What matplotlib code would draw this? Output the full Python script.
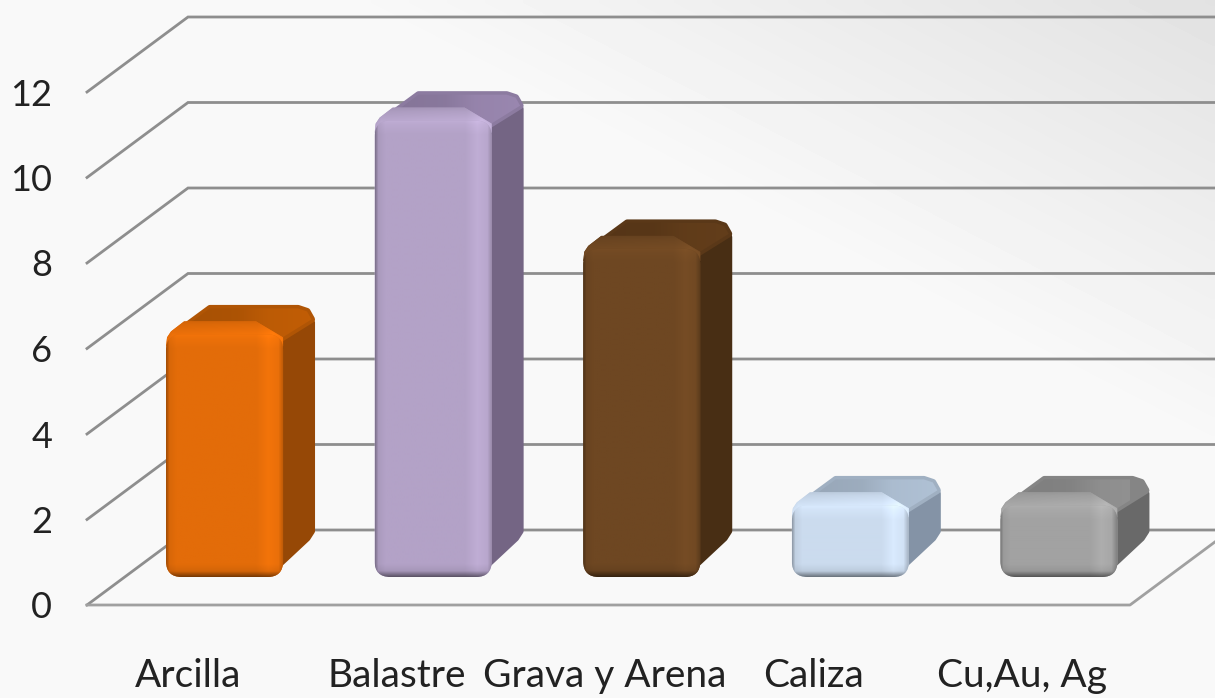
#!/usr/bin/env python

import numpy as np
import matplotlib
matplotlib.use("Agg")
import matplotlib.pyplot as plt
from matplotlib.patches import FancyBboxPatch, Polygon
from matplotlib.transforms import ScaledTranslation

plt.rcParams['font.family'] = ['Lato', 'DejaVu Sans']

categorias = ["Arcilla", "Balastre", "Grava y Arena", "Caliza", "Cu,Au, Ag"]
valores = [6, 11, 8, 2, 2]
yticks = [0, 2, 4, 6, 8, 10, 12]

frente = ["#E36C09", "#B3A2C7", "#6E4722", "#CBDBEE", "#A2A2A2"]
arriba = ["#B05505", "#8C7BA0", "#5A3818", "#A0B0C2", "#858585"]
lado = ["#964806", "#746584", "#482E14", "#8493A6", "#696969"]

W, H = 1215, 698
UX = 208.6   # px per category
UY = 42.75   # px per unit
BAR_W = 117
L0 = -0.121
Y_SHIFT = 0.33
Y_BASE = 0.655
DX, DY = 101 / UX, 75 / UY  # depth of the floor
LW = 5.0     # round edge of the side and top faces, 7 px


def p(i, top, dx, dy):
    return (i + L0 + dx / UX, top - dy / UY)


def shade(ax, color, clip, box_px, i, top, xp, yp, zorder):
    # paint a lit face as an image, clipped to the patch
    x0, y0, w, h = box_px
    nx, ny = int(w), int(h)
    fx = np.interp(np.arange(nx), *xp)
    fy = np.interp(np.arange(ny), *yp)
    f = np.outer(fy, fx)[:, :, None]
    img = np.clip(np.array(matplotlib.colors.to_rgb(color)) * f, 0, 1)
    a = p(i, top, x0, y0)
    b = p(i, top, x0 + w, y0 + h)
    im = ax.imshow(img, extent=[a[0], b[0], b[1], a[1]], aspect="auto",
                   interpolation="bilinear", zorder=zorder)
    im.set_clip_path(clip)


fig = plt.figure(figsize=(W / 100, H / 100), dpi=100)

bg = fig.add_axes([0, 0, 1, 1], zorder=-1)
yy, xx = np.mgrid[0:1:120j, 0:1:200j]
t = np.clip((xx * 0.9 - yy * 1.0 - 0.25) / 0.65, 0, 1)
bg.imshow(0.976 - 0.09 * t, cmap="gray", vmin=0, vmax=1, aspect="auto",
          interpolation="bilinear")
bg.axis("off")

ax = fig.add_axes([87 / W, (H - 605) / H, 1043 / W, 513 / H])
ax.patch.set_visible(False)
for s in ax.spines.values():
    s.set_visible(False)

for v in yticks:
    ax.plot([-0.5, -0.5 + DX, 6], [v, v + DY, v + DY], color="#8e8e8e", lw=2,
            clip_on=False, zorder=1, solid_joinstyle="miter")
ax.plot([-0.5, 4.5, 4.5 + DX], [0, 0, DY], color="#a0a0a0", lw=2, clip_on=False,
        zorder=1)

for i, v in enumerate(valores):
    top = v + Y_SHIFT
    h_px = (top - Y_BASE) * UY

    # side face
    ax.add_patch(Polygon([p(i, top, BAR_W - 6, 0), p(i, top, BAR_W + 25, -18),
                          p(i, top, BAR_W + 28.5, -12), p(i, top, BAR_W + 28.5, h_px - 46),
                          p(i, top, BAR_W + 24, h_px - 39), p(i, top, BAR_W - 14, h_px - 3.5)],
                         closed=True, fc=lado[i], ec=lado[i], lw=LW, joinstyle="round",
                         clip_on=False, zorder=3))

    # top face, back part
    tp = Polygon([p(i, top, 10, -1), p(i, top, 44, -26), p(i, top, 132, -26),
                  p(i, top, 141, -23), p(i, top, 145.5, -15), p(i, top, BAR_W - 2, 4)],
                 closed=True, fc=arriba[i], ec=arriba[i], lw=LW, joinstyle="round",
                 clip_on=False, zorder=3)
    ax.add_patch(tp)
    shade(ax, arriba[i], tp, (0, -32, BAR_W + 40, 40), i, top,
          ([0, 70, 100, 150], [0.94, 0.98, 1.07, 1.1]),
          ([0, 40], [1.0, 1.0]), 3)

    # bevel between top and front
    bv = Polygon([p(i, top, 0, 12), p(i, top, 1, 3), p(i, top, 5, -3), p(i, top, 18, -13),
                  p(i, top, 90, -13), p(i, top, BAR_W, 3), p(i, top, BAR_W, 12)],
                 closed=True, fc=frente[i], ec="none", clip_on=False, zorder=4)
    ax.add_patch(bv)
    shade(ax, frente[i], bv, (0, -16, BAR_W, 28), i, top,
          ([0, 6, 90, 106, BAR_W], [0.95, 1.0, 1.03, 1.1, 1.0]),
          ([0, 6, 16, 22, 28], [0.88, 0.96, 1.04, 1.08, 1.0]), 4)

    # front face
    a = p(i, top, 0, h_px)
    fr = FancyBboxPatch(a, BAR_W / UX, h_px / UY, boxstyle="round,pad=0,rounding_size=0.075",
                        mutation_aspect=UX / UY, fc=frente[i], ec="none", clip_on=False,
                        zorder=5)
    ax.add_patch(fr)
    shade(ax, frente[i], fr, (0, 0, BAR_W, h_px), i, top,
          ([0, 3, 10, BAR_W - 28, BAR_W - 16, BAR_W - 6, BAR_W - 1],
           [0.72, 0.95, 1.0, 1.0, 1.07, 1.03, 0.82]),
          ([0, 4, 14, h_px - 14, h_px - 7, h_px - 1], [1.07, 1.04, 1.0, 1.0, 0.93, 0.5]), 5)

ax.set_xlim(-0.5, 4.5)
ax.set_ylim(0, 12)
ax.set_yticks(yticks)
ax.set_yticklabels([str(v) for v in yticks])
ax.set_xticks(range(len(categorias)))
ax.set_xticklabels(categorias)
ax.tick_params(axis="y", length=0, pad=25, labelsize=26, labelcolor="#222222")
ax.tick_params(axis="x", length=0, pad=38, labelsize=28, labelcolor="#222222")
for lab in ax.get_xticklabels():
    lab.set_transform(lab.get_transform() + ScaledTranslation(-3.5 / 100, 0, fig.dpi_scale_trans))

fig.savefig("out.png", dpi=100)
